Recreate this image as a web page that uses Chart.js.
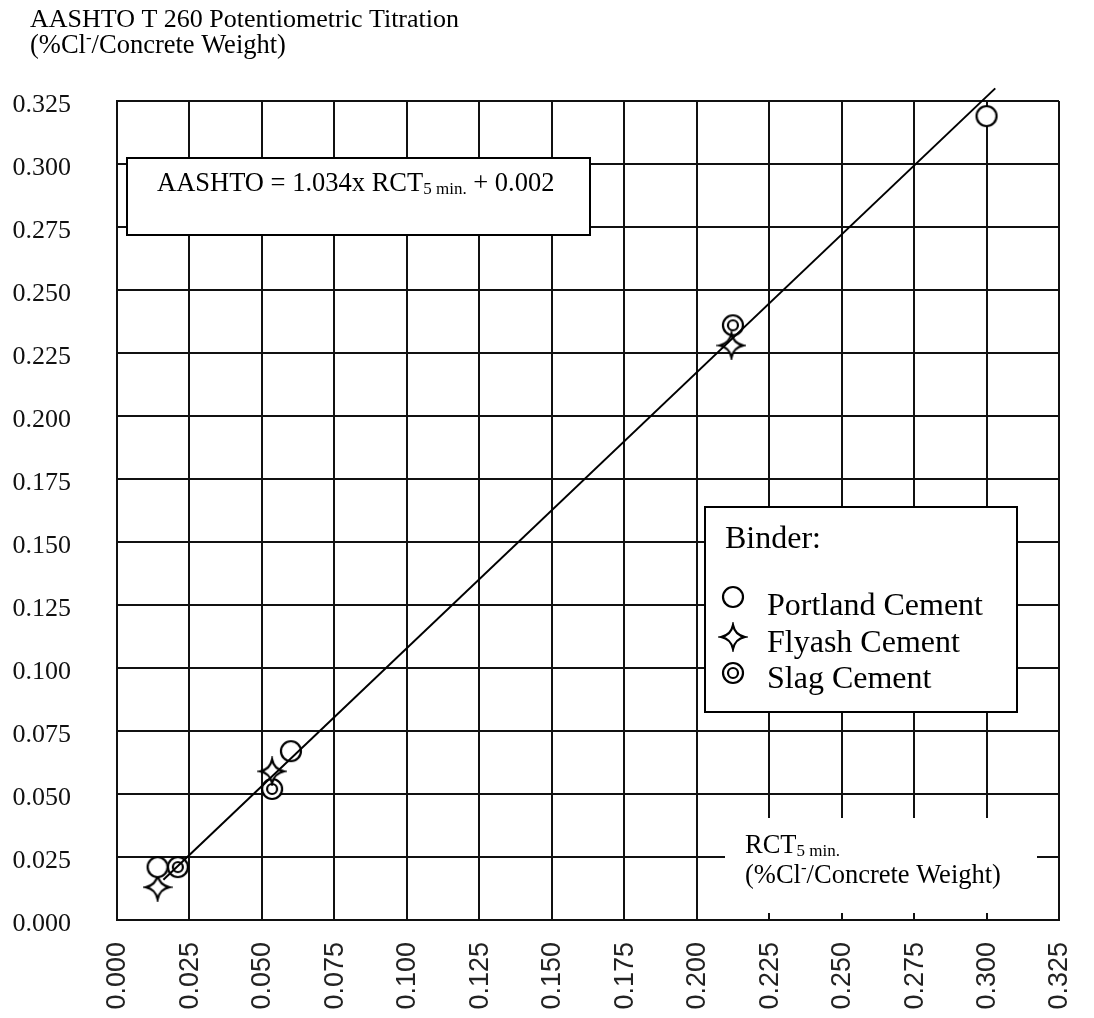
<!DOCTYPE html>
<html>
<head>
<meta charset="utf-8">
<script src="https://cdn.jsdelivr.net/npm/chart.js@4"></script>
<style>
  body { margin: 0; background: #fff; }
  #wrap { width: 1094px; height: 1018px; position: relative; }
</style>
</head>
<body>
<div id="wrap"><canvas id="titration"></canvas></div>
<script>
// readings (RCT 5 min. vs AASHTO T 260, %Cl-/concrete weight)
const portlandX = [0.014, 0.060, 0.300];
const portlandY = [0.021, 0.067, 0.319];
const flyashX = [0.014, 0.0535, 0.212];
const flyashY = [0.013, 0.059, 0.228];
const slagX = [0.021, 0.0535, 0.2125];
const slagY = [0.021, 0.052, 0.236];
// regression line as drawn
const fitX = [0.016, 0.303];
const fitY = [0.016, 0.330];

const tickMin = 0, tickMax = 0.325, tickStep = 0.025;
const binderLabels = ['Portland Cement', 'Flyash Cement', 'Slag Cement'];

const serif = '"Liberation Serif", "Times New Roman", serif';
const sans = '"Liberation Sans", Arial, sans-serif';

function toPoints(xs, ys) {
    return xs.map((x, i) => ({ x: x, y: ys[i] }));
}

// marker images
function makeMarker(kind) {
    const c = document.createElement('canvas');
    c.width = 30; c.height = 30;
    const g = c.getContext('2d');
    g.lineWidth = 2.2;
    g.strokeStyle = '#000';
    g.fillStyle = '#fff';
    if (kind === 'circle' || kind === 'double') {
        g.beginPath();
        g.arc(15, 15, 10, 0, Math.PI * 2);
        g.fill();
        g.stroke();
        if (kind === 'double') {
            g.beginPath();
            g.arc(15, 15, 5, 0, Math.PI * 2);
            g.stroke();
        }
    } else {
        const r = 12, k = 2;
        g.beginPath();
        g.moveTo(15, 15 - r);
        g.quadraticCurveTo(15 + k, 15 - k, 15 + r, 15);
        g.quadraticCurveTo(15 + k, 15 + k, 15, 15 + r);
        g.quadraticCurveTo(15 - k, 15 + k, 15 - r, 15);
        g.quadraticCurveTo(15 - k, 15 - k, 15, 15 - r);
        g.closePath();
        g.fill();
        g.stroke();
    }
    return c;
}
const markers = [makeMarker('circle'), makeMarker('star'), makeMarker('double')];

function drawSubText(ctx, x, y, parts) {
    // parts: [text, size, dy]
    parts.forEach(p => {
        ctx.font = p[1] + 'px ' + serif;
        ctx.fillText(p[0], x, y + p[2]);
        x += ctx.measureText(p[0]).width;
    });
}

const annotations = {
    id: 'annotations',
    beforeDatasetsDraw(chart) {
        const ctx = chart.ctx;
        ctx.save();
        ctx.fillStyle = '#000';
        ctx.textAlign = 'left';
        ctx.textBaseline = 'alphabetic';

        // equation box
        ctx.fillStyle = '#fff';
        ctx.fillRect(127, 158, 463, 77);
        ctx.lineWidth = 2;
        ctx.strokeStyle = '#000';
        ctx.strokeRect(127, 158, 463, 77);
        ctx.fillStyle = '#000';
        drawSubText(ctx, 157, 191, [['AASHTO = 1.034x RCT', 26.5, 0], ['5 min.', 17, 3], [' + 0.002', 26.5, 0]]);

        // legend box
        ctx.fillStyle = '#fff';
        ctx.fillRect(705, 507, 312, 205);
        ctx.strokeRect(705, 507, 312, 205);
        ctx.fillStyle = '#000';
        ctx.font = '32px ' + serif;
        ctx.fillText('Binder:', 725, 548);
        const rowY = [615, 652, 688];
        const markY = [597, 637, 673];
        binderLabels.forEach((lab, i) => {
            ctx.drawImage(markers[i], 733 - 15, markY[i] - 15);
            ctx.fillText(lab, 767, rowY[i]);
        });

        // x axis title box
        ctx.fillStyle = '#fff';
        ctx.fillRect(725, 818, 312, 95);
        ctx.fillStyle = '#000';
        drawSubText(ctx, 745, 853, [['RCT', 26.5, 0], ['5 min.', 17, 3]]);
        drawSubText(ctx, 745, 883, [['(%Cl', 26.5, 0], ['-', 17, -10], ['/Concrete Weight)', 26.5, 0]]);
        ctx.restore();
    },
    afterDraw(chart) {
        const ctx = chart.ctx;
        ctx.save();
        ctx.fillStyle = '#000';
        ctx.textAlign = 'left';
        drawSubText(ctx, 30, 27, [['AASHTO T 260 Potentiometric Titration', 26, 0]]);
        drawSubText(ctx, 30, 53, [['(%Cl', 26.5, 0], ['-', 17, -10], ['/Concrete Weight)', 26.5, 0]]);
        ctx.restore();
    }
};

const ctx = document.getElementById('titration').getContext('2d');

const chart = new Chart(ctx, {
    type: 'scatter',
    data: {
        datasets: [
            {
                type: 'line',
                label: 'fit',
                data: toPoints(fitX, fitY),
                borderColor: '#000',
                borderWidth: 2,
                pointRadius: 0,
                clip: false,
                order: 0
            },
            {
                label: binderLabels[0],
                data: toPoints(portlandX, portlandY),
                pointStyle: markers[0],
                pointRadius: 10,
                order: 1
            },
            {
                label: binderLabels[1],
                data: toPoints(flyashX, flyashY),
                pointStyle: markers[1],
                pointRadius: 10,
                order: 1
            },
            {
                label: binderLabels[2],
                data: toPoints(slagX, slagY),
                pointStyle: markers[2],
                pointRadius: 10,
                order: 1
            }
        ]
    },
    options: {
        responsive: true,
        maintainAspectRatio: false,
        animation: false,
        layout: { padding: { top: 101, right: 35, left: 0, bottom: 0 } },
        plugins: {
            legend: { display: false },
            title: { display: false },
            tooltip: { enabled: false }
        },
        scales: {
            x: {
                type: 'linear',
                min: tickMin,
                max: tickMax,
                afterFit: (scale) => {
                    scale.height = 98;
                    scale.paddingLeft = 0;
                    scale.paddingRight = 0;
                },
                ticks: {
                    stepSize: tickStep,
                    maxRotation: 90,
                    minRotation: 90,
                    padding: 22,
                    labelOffset: 1,
                    color: '#222',
                    font: { family: sans, size: 27 },
                    callback: (v) => v.toFixed(3)
                },
                grid: { color: '#111', lineWidth: 2, drawTicks: false },
                border: { color: '#111', width: 2 }
            },
            y: {
                type: 'linear',
                min: tickMin,
                max: tickMax,
                afterFit: (scale) => {
                    scale.width = 117;
                    scale.paddingTop = 0;
                    scale.paddingBottom = 0;
                },
                ticks: {
                    stepSize: tickStep,
                    padding: 46,
                    labelOffset: 4,
                    color: '#111',
                    font: { family: serif, size: 26 },
                    callback: (v) => v.toFixed(3)
                },
                grid: { color: '#111', lineWidth: 2, drawTicks: false },
                border: { color: '#111', width: 2 }
            }
        }
    },
    plugins: [annotations]
});
</script>
</body>
</html>
